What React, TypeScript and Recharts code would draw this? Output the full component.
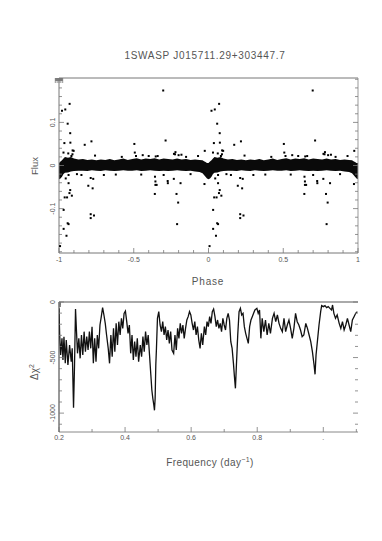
import React from 'react';
import { ComposedChart, Area, Scatter, XAxis, YAxis, LineChart, Line } from 'recharts';

const FONT = '"Liberation Sans", Arial, sans-serif';
const TXT = '#555';
const FRAME = '#777';

const TITLE = '1SWASP J015711.29+303447.7';

// ---- Top panel: folded light curve ----
const phaseTicks = [-1, -0.9, -0.8, -0.7, -0.6, -0.5, -0.4, -0.3, -0.2, -0.1, 0, 0.1, 0.2, 0.3, 0.4, 0.5, 0.6, 0.7, 0.8, 0.9, 1];
const phaseMajor = [-1, -0.5, 0, 0.5, 1];
const fluxTicks = [-0.2, -0.18, -0.16, -0.14, -0.12, -0.1, -0.08, -0.06, -0.04, -0.02, 0, 0.02, 0.04, 0.06, 0.08, 0.1, 0.12, 0.14, 0.16, 0.18, 0.2];
const fluxMajor = [-0.1, 0, 0.1];

// dense band of points (envelope), one period 0..1
const bandPhase = [0, 0.01, 0.02, 0.03, 0.04, 0.06, 0.08, 0.1, 0.13, 0.16, 0.19, 0.22, 0.25, 0.28, 0.31, 0.34, 0.37, 0.4, 0.43, 0.46, 0.49, 0.52, 0.55, 0.58, 0.61, 0.64, 0.67, 0.7, 0.73, 0.76, 0.79, 0.82, 0.85, 0.88, 0.91, 0.94, 0.96, 0.97, 0.98, 0.99, 1.0];
const bandHigh = [0.006, 0.009, 0.012, 0.016, 0.02, 0.018, 0.02, 0.016, 0.014, 0.015, 0.013, 0.014, 0.012, 0.014, 0.013, 0.015, 0.012, 0.014, 0.016, 0.013, 0.015, 0.017, 0.014, 0.016, 0.015, 0.017, 0.014, 0.016, 0.015, 0.014, 0.016, 0.014, 0.015, 0.013, 0.014, 0.013, 0.012, 0.01, 0.008, 0.006, 0.006];
const bandLow = [-0.032, -0.03, -0.026, -0.02, -0.017, -0.016, -0.014, -0.013, -0.012, -0.012, -0.013, -0.011, -0.012, -0.013, -0.011, -0.012, -0.013, -0.012, -0.011, -0.012, -0.012, -0.011, -0.013, -0.012, -0.011, -0.012, -0.013, -0.012, -0.013, -0.012, -0.011, -0.012, -0.013, -0.012, -0.014, -0.015, -0.018, -0.022, -0.026, -0.03, -0.032];

// isolated points, one period 0..1
const outPhase = [0.02, 0.042, 0.071, 0.058, 0.075, 0.076, 0.036, 0.03, 0.098, 0.091, 0.083, 0.172, 0.217, 0.241, 0.504, 0.507, 0.697, 0.713, 0.647, 0.66, 0.779, 0.769, 0.819, 0.8, 0.975, 0.973, 0.007, 0.031, 0.05, 0.064, 0.058, 0.031, 0.038, 0.054, 0.086, 0.075, 0.07, 0.064, 0.064, 0.045, 0.196, 0.212, 0.229, 0.225, 0.212, 0.212, 0.234, 0.642, 0.645, 0.645, 0.641, 0.653, 0.727, 0.728, 0.768, 0.776, 0.786, 0.797, 0.79, 0.813, 0.12, 0.3, 0.42, 0.55, 0.6, 0.88, 0.93, 0.38, 0.56, 0.7, 0.85, 0.15, 0.062, 0.09, 0.515];
const outFlux = [0.127, 0.13, 0.143, 0.097, 0.075, 0.053, 0.052, 0.03, 0.034, 0.035, 0.022, 0.048, 0.056, 0.023, 0.05, 0.03, 0.174, 0.058, 0.021, 0.022, 0.031, 0.027, 0.025, 0.024, 0.034, -0.043, -0.187, -0.147, -0.163, -0.136, -0.134, -0.103, -0.074, -0.074, -0.07, -0.057, -0.064, -0.041, -0.022, -0.03, -0.047, -0.029, -0.031, -0.053, -0.113, -0.122, -0.116, -0.026, -0.037, -0.045, -0.066, -0.045, -0.036, -0.041, -0.031, 0.026, -0.066, -0.086, -0.136, -0.041, -0.02, -0.022, 0.02, -0.021, 0.022, -0.02, 0.022, -0.021, 0.024, -0.022, 0.02, -0.022, 0.028, 0.026, 0.022];

// ---- Bottom panel: periodogram ----
const freqTicks = [0.2, 0.3, 0.4, 0.5, 0.6, 0.7, 0.8, 0.9, 1.0, 1.1];
const freqMajor = [0.2, 0.4, 0.6, 0.8, 1.0];
const chiTicks = [0, -100, -200, -300, -400, -500, -600, -700, -800, -900, -1000, -1100];
const chiMajor = [0, -500, -1000];

const freq = [0.2, 0.202, 0.205, 0.209, 0.212, 0.215, 0.219, 0.222, 0.227, 0.232, 0.237, 0.24, 0.242, 0.244, 0.247, 0.25, 0.253, 0.256, 0.26, 0.264, 0.268, 0.272, 0.276, 0.28, 0.284, 0.288, 0.292, 0.296, 0.3, 0.304, 0.308, 0.312, 0.316, 0.32, 0.324, 0.328, 0.332, 0.336, 0.34, 0.344, 0.349, 0.353, 0.357, 0.361, 0.365, 0.369, 0.373, 0.377, 0.381, 0.385, 0.389, 0.393, 0.397, 0.401, 0.405, 0.409, 0.413, 0.417, 0.421, 0.425, 0.429, 0.433, 0.437, 0.441, 0.446, 0.45, 0.454, 0.458, 0.462, 0.466, 0.47, 0.474, 0.478, 0.481, 0.484, 0.487, 0.489, 0.491, 0.493, 0.495, 0.498, 0.502, 0.506, 0.51, 0.514, 0.518, 0.522, 0.526, 0.53, 0.534, 0.538, 0.542, 0.547, 0.551, 0.555, 0.559, 0.563, 0.567, 0.571, 0.575, 0.579, 0.583, 0.587, 0.591, 0.595, 0.599, 0.603, 0.607, 0.611, 0.615, 0.619, 0.623, 0.627, 0.631, 0.635, 0.64, 0.644, 0.648, 0.652, 0.656, 0.66, 0.664, 0.668, 0.672, 0.676, 0.68, 0.684, 0.688, 0.692, 0.696, 0.7, 0.704, 0.708, 0.712, 0.716, 0.72, 0.724, 0.728, 0.731, 0.734, 0.737, 0.741, 0.745, 0.749, 0.753, 0.757, 0.761, 0.765, 0.769, 0.773, 0.777, 0.781, 0.785, 0.789, 0.793, 0.799, 0.803, 0.807, 0.811, 0.815, 0.82, 0.825, 0.83, 0.835, 0.84, 0.846, 0.851, 0.856, 0.861, 0.866, 0.871, 0.876, 0.881, 0.886, 0.891, 0.896, 0.901, 0.906, 0.911, 0.916, 0.921, 0.926, 0.931, 0.936, 0.941, 0.947, 0.952, 0.957, 0.962, 0.967, 0.972, 0.975, 0.978, 0.983, 0.987, 0.992, 0.995, 1.0, 1.005, 1.01, 1.015, 1.02, 1.025, 1.028, 1.032, 1.037, 1.042, 1.048, 1.053, 1.058, 1.063, 1.068, 1.073, 1.078, 1.083, 1.088, 1.093, 1.098, 1.103];
const deltaChi2 = [-57, -297, -477, -327, -522, -312, -552, -342, -567, -387, -537, -417, -687, -951, -567, -63, -267, -462, -327, -507, -297, -477, -267, -447, -312, -432, -267, -417, -222, -552, -327, -537, -297, -417, -207, -132, -51, -117, -192, -297, -417, -552, -297, -492, -237, -447, -192, -387, -177, -297, -147, -237, -102, -81, -177, -282, -207, -462, -297, -522, -357, -492, -327, -537, -387, -492, -312, -447, -267, -387, -297, -477, -657, -792, -867, -927, -975, -867, -567, -417, -147, -87, -207, -267, -177, -297, -222, -342, -252, -372, -267, -432, -462, -297, -432, -237, -327, -192, -282, -207, -327, -237, -162, -132, -87, -117, -192, -252, -177, -297, -222, -342, -417, -282, -387, -222, -297, -177, -222, -132, -192, -87, -63, -132, -222, -162, -237, -192, -267, -147, -207, -252, -147, -102, -162, -357, -417, -552, -672, -777, -567, -297, -87, -57, -117, -102, -222, -282, -327, -372, -222, -162, -132, -102, -72, -57, -102, -72, -327, -147, -267, -162, -297, -192, -282, -147, -102, -177, -117, -192, -237, -267, -147, -267, -207, -162, -237, -327, -237, -102, -177, -207, -252, -312, -297, -192, -237, -297, -357, -447, -567, -651, -477, -327, -207, -87, -33, -42, -33, -51, -42, -57, -72, -27, -102, -147, -117, -192, -237, -177, -252, -207, -147, -207, -267, -162, -132, -102, -87];

const bandData = [
  ...bandPhase.map((p, i) => ({ phase: p - 1, range: [bandLow[i], bandHigh[i]] })),
  ...bandPhase.map((p, i) => ({ phase: p, range: [bandLow[i], bandHigh[i]] })),
];
const pointData = [
  ...outPhase.map((p, i) => ({ phase: p - 1, flux: outFlux[i] })),
  ...outPhase.map((p, i) => ({ phase: p, flux: outFlux[i] })),
];
const periodData = freq.map((f, i) => ({ freq: f, chi: deltaChi2[i] }));

const isMajor = (majors: number[], v: number) => majors.some((m) => Math.abs(m - v) < 1e-6);

function makeTick(
  side: 'bottom' | 'top' | 'left' | 'right',
  majors: number[],
  fmt: ((v: number) => string) | null,
  color: string,
  labelGap: number
) {
  return (props: any) => {
    const { x, y, payload } = props;
    const v = payload.value;
    const major = isMajor(majors, v);
    const len = major ? 5 : 3;
    let line: any = null;
    if (side === 'bottom') line = <line x1={x} y1={y} x2={x} y2={y - len} stroke={color} strokeWidth={0.8} />;
    if (side === 'top') line = <line x1={x} y1={y} x2={x} y2={y + len} stroke={color} strokeWidth={0.8} />;
    if (side === 'left') line = <line x1={x} y1={y} x2={x + len} y2={y} stroke={color} strokeWidth={0.8} />;
    if (side === 'right') line = <line x1={x} y1={y} x2={x - len} y2={y} stroke={color} strokeWidth={0.8} />;
    let label: any = null;
    if (fmt && major) {
      if (side === 'bottom') {
        label = (
          <text x={x} y={y + labelGap} textAnchor="middle" fontSize={7} fontFamily={FONT} fill={TXT}>
            {fmt(v)}
          </text>
        );
      } else if (side === 'left') {
        const lx = x - labelGap;
        label = (
          <text x={lx} y={y} transform={`rotate(-90 ${lx} ${y})`} textAnchor="middle" fontSize={7} fontFamily={FONT} fill={TXT}>
            {fmt(v)}
          </text>
        );
      }
    }
    return (
      <g>
        {line}
        {label}
      </g>
    );
  };
}

const phaseFmt = (v: number) => (v === 0 ? '0' : String(v));
const fluxFmt = (v: number) => (v === 0 ? '0' : String(v));
const freqFmt = (v: number) => (Math.abs(v - 1) < 1e-6 ? '.' : v.toFixed(1));
const chiFmt = (v: number) => String(v);

const dotShape = (p: any) => <rect x={p.cx - 1} y={p.cy - 1} width={2} height={2} fill="#000" />;

export default function App() {
  return (
    <div style={{ position: 'absolute', left: 0, top: 0, width: 382, height: 541, background: '#fff' }}>
      <div style={{ position: 'absolute', left: 0, top: 0 }}>
        <ComposedChart width={382} height={300} data={bandData} margin={{ top: 77, right: 23, bottom: 46, left: 58 }}>
          <XAxis
            dataKey="phase"
            type="number"
            domain={[-1, 1]}
            allowDataOverflow
            ticks={phaseTicks}
            interval={0}
            height={1}
            tickSize={0}
            tickMargin={0}
            tickLine={false}
            axisLine={{ stroke: FRAME }}
            tick={makeTick('bottom', phaseMajor, phaseFmt, FRAME, 9)}
          />
          <XAxis
            xAxisId="top"
            orientation="top"
            type="number"
            domain={[-1, 1]}
            allowDataOverflow
            ticks={phaseTicks}
            interval={0}
            height={1}
            tickSize={0}
            tickMargin={0}
            tickLine={false}
            axisLine={{ stroke: FRAME }}
            tick={makeTick('top', phaseMajor, null, FRAME, 0)}
          />
          <YAxis
            type="number"
            domain={[-0.203, 0.203]}
            allowDataOverflow
            ticks={fluxTicks}
            interval={0}
            width={1}
            tickSize={0}
            tickMargin={0}
            tickLine={false}
            axisLine={{ stroke: FRAME }}
            tick={makeTick('left', fluxMajor, fluxFmt, FRAME, 4)}
          />
          <YAxis
            yAxisId="right"
            orientation="right"
            type="number"
            domain={[-0.203, 0.203]}
            allowDataOverflow
            ticks={fluxTicks}
            interval={0}
            width={1}
            tickSize={0}
            tickMargin={0}
            tickLine={false}
            axisLine={{ stroke: '#999' }}
            tick={makeTick('right', fluxMajor, null, FRAME, 0)}
          />
          <Area
            dataKey="range"
            type="linear"
            fill="#0a0a0a"
            fillOpacity={1}
            stroke="none"
            isAnimationActive={false}
            dot={false}
            activeDot={false}
          />
          <Scatter data={pointData} dataKey="flux" shape={dotShape} isAnimationActive={false} />
        </ComposedChart>
      </div>
      <div style={{ position: 'absolute', left: 0, top: 290 }}>
        <LineChart width={382} height={200} data={periodData} margin={{ top: 11, right: 23, bottom: 57, left: 58 }}>
          <XAxis
            dataKey="freq"
            type="number"
            domain={[0.2, 1.105]}
            allowDataOverflow
            ticks={freqTicks}
            interval={0}
            height={1}
            tickSize={0}
            tickMargin={0}
            tickLine={false}
            axisLine={{ stroke: '#888' }}
            tick={makeTick('bottom', freqMajor, freqFmt, FRAME, 7.5)}
          />
          <XAxis
            xAxisId="top"
            orientation="top"
            type="number"
            domain={[0.2, 1.105]}
            allowDataOverflow
            ticks={freqTicks}
            interval={0}
            height={1}
            tickSize={0}
            tickMargin={0}
            tickLine={false}
            axisLine={{ stroke: '#aaa', strokeWidth: 2 }}
            tick={makeTick('top', freqMajor, null, FRAME, 0)}
          />
          <YAxis
            type="number"
            domain={[-1170, 0]}
            allowDataOverflow
            ticks={chiTicks}
            interval={0}
            width={1}
            tickSize={0}
            tickMargin={0}
            tickLine={false}
            axisLine={{ stroke: '#333' }}
            tick={makeTick('left', chiMajor, chiFmt, FRAME, 4)}
          />
          <YAxis
            yAxisId="right"
            orientation="right"
            type="number"
            domain={[-1170, 0]}
            allowDataOverflow
            ticks={chiTicks}
            interval={0}
            width={1}
            tickSize={0}
            tickMargin={0}
            tickLine={false}
            axisLine={false}
            tick={makeTick('right', chiMajor, null, FRAME, 0)}
          />
          <Line dataKey="chi" type="linear" stroke="#111" strokeWidth={1.3} dot={false} activeDot={false} isAnimationActive={false} />
        </LineChart>
      </div>
      <svg width={382} height={541} style={{ position: 'absolute', left: 0, top: 0, pointerEvents: 'none' }}>
        <text x={205} y={58.5} textAnchor="middle" fontSize={10} letterSpacing={0.7} fontFamily={FONT} fill={TXT}>
          {TITLE}
        </text>
        <text x={208} y={285} textAnchor="middle" fontSize={10} letterSpacing={0.8} fontFamily={FONT} fill={TXT}>
          Phase
        </text>
        <text x={38} y={166} transform="rotate(-90 38 166)" textAnchor="middle" fontSize={9.5} fontFamily={FONT} fill={TXT}>
          Flux
        </text>
        <text x={38} y={372} transform="rotate(-90 38 372)" textAnchor="middle" fontSize={10} fontFamily={FONT} fill={TXT}>
          Δχ<tspan dy={-4} fontSize={7}>2</tspan>
        </text>
        <text x={210} y={465.5} textAnchor="middle" fontSize={10} letterSpacing={0.4} fontFamily={FONT} fill={TXT}>
          Frequency (day<tspan dy={-4} fontSize={7}>−1</tspan>
          <tspan dy={4}>)</tspan>
        </text>
      </svg>
    </div>
  );
}
